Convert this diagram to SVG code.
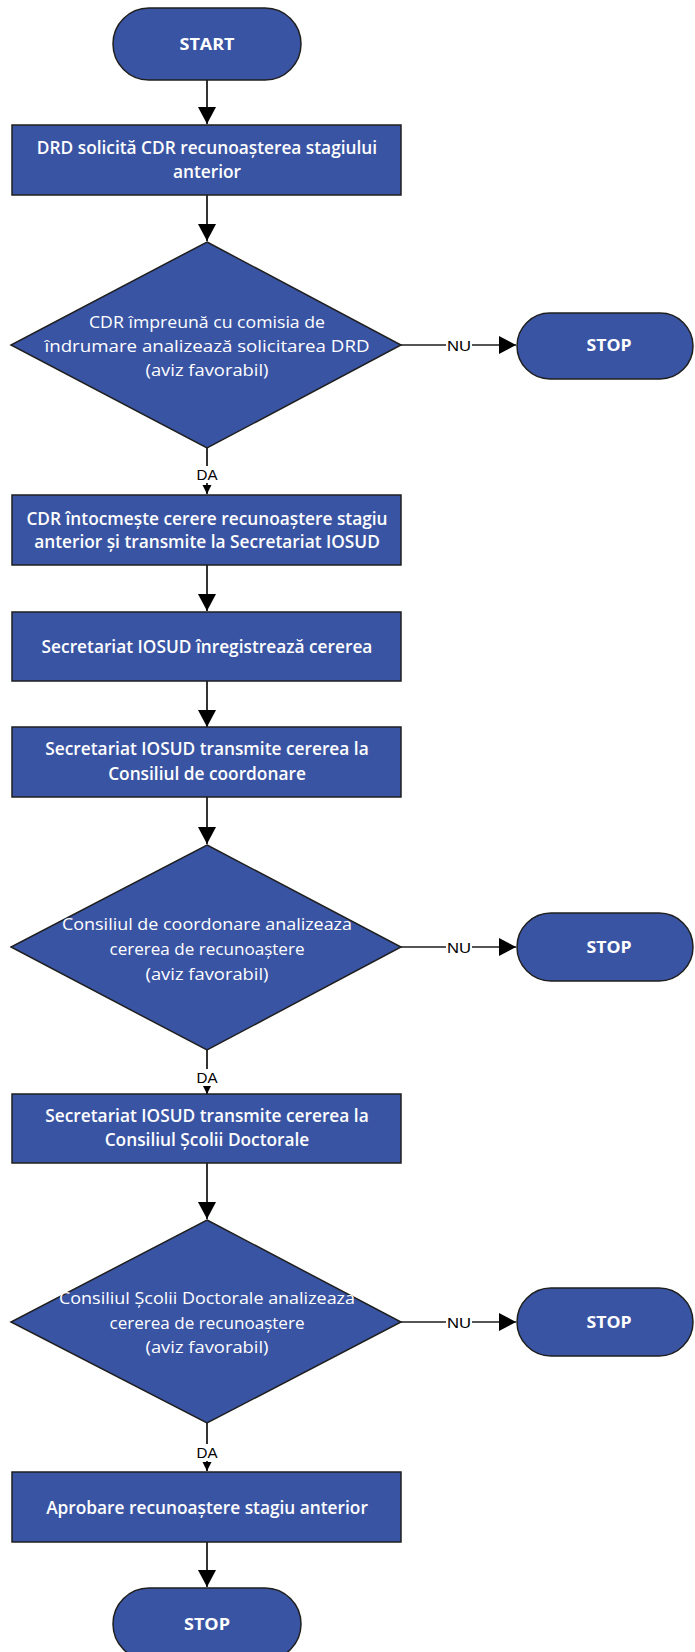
<svg xmlns="http://www.w3.org/2000/svg" width="695" height="1652" viewBox="0 0 695 1652">
<style>
.n{fill:#3A54A4;stroke:#1f1f1f;stroke-width:1.5}
.t{fill:#fff;font-family:"Open Sans","Noto Sans",sans-serif;font-size:17.3px;font-weight:600;text-anchor:middle}
.d{fill:#fff;font-family:"Open Sans","Noto Sans",sans-serif;font-size:17px;font-weight:500;text-anchor:middle}
.s{fill:#fff;font-family:"Open Sans","Noto Sans",sans-serif;font-size:16px;font-weight:700;text-anchor:middle}
.c{stroke:#000;stroke-width:1.6;fill:none}
.h{stroke:#555;stroke-width:2.2;fill:none}
.l{fill:#000;font-family:"Liberation Sans",Arial,sans-serif;font-size:14px;text-anchor:middle}
</style>
<defs>
<marker id="a" markerUnits="userSpaceOnUse" markerWidth="18" markerHeight="18" refX="17" refY="9" orient="auto"><path d="M0,0 L17,9 L0,18 Z" fill="#000"/></marker>
<marker id="b" markerUnits="userSpaceOnUse" markerWidth="10" markerHeight="10" refX="9" refY="4.5" orient="auto"><path d="M0,0 L9,4.5 L0,9 Z" fill="#000"/></marker>
</defs>
<rect width="695" height="1652" fill="#fff"/>
<g id="connectors">
<line class="c" x1="207" y1="80" x2="207" y2="124" marker-end="url(#a)"/>
<line class="c" x1="207" y1="195" x2="207" y2="241" marker-end="url(#a)"/>
<line class="c" x1="207" y1="448" x2="207" y2="494" marker-end="url(#b)"/>
<line class="h" x1="401" y1="345" x2="516" y2="345" marker-end="url(#a)"/>
<line class="c" x1="207" y1="565" x2="207" y2="611" marker-end="url(#a)"/>
<line class="c" x1="207" y1="681" x2="207" y2="727" marker-end="url(#a)"/>
<line class="c" x1="207" y1="797" x2="207" y2="844" marker-end="url(#a)"/>
<line class="c" x1="207" y1="1050" x2="207" y2="1094" marker-end="url(#b)"/>
<line class="h" x1="401" y1="947" x2="516" y2="947" marker-end="url(#a)"/>
<line class="c" x1="207" y1="1163" x2="207" y2="1219" marker-end="url(#a)"/>
<line class="c" x1="207" y1="1423" x2="207" y2="1471" marker-end="url(#b)"/>
<line class="h" x1="401" y1="1322" x2="516" y2="1322" marker-end="url(#a)"/>
<line class="c" x1="207" y1="1542" x2="207" y2="1587" marker-end="url(#a)"/>
<rect x="446" y="337" width="26" height="17" fill="#fff"/>
<text class="l" x="459" y="351" textLength="24" lengthAdjust="spacingAndGlyphs">NU</text>
<rect x="446" y="939" width="26" height="17" fill="#fff"/>
<text class="l" x="459" y="953" textLength="24" lengthAdjust="spacingAndGlyphs">NU</text>
<rect x="446" y="1314" width="26" height="17" fill="#fff"/>
<text class="l" x="459" y="1328" textLength="24" lengthAdjust="spacingAndGlyphs">NU</text>
<rect x="195" y="466" width="24" height="17" fill="#fff"/>
<text class="l" x="207" y="480" textLength="21" lengthAdjust="spacingAndGlyphs">DA</text>
<rect x="195" y="1069" width="24" height="17" fill="#fff"/>
<text class="l" x="207" y="1083" textLength="21" lengthAdjust="spacingAndGlyphs">DA</text>
<rect x="195" y="1444" width="24" height="17" fill="#fff"/>
<text class="l" x="207" y="1458" textLength="21" lengthAdjust="spacingAndGlyphs">DA</text>
</g>
<g id="start"><rect class="n" x="113" y="8" width="188" height="72" rx="36"/><text class="s" x="207" y="50" textLength="55" lengthAdjust="spacingAndGlyphs">START</text></g>
<g id="box1"><rect class="n" x="12" y="125" width="389" height="70"/><text class="t" x="207" y="154">DRD solicită CDR recunoașterea stagiului</text><text class="t" x="207" y="178">anterior</text></g>
<g id="dec1"><polygon class="n" points="207,242 401,345 207,448 11,345"/><text class="d" x="207" y="328" textLength="236" lengthAdjust="spacingAndGlyphs">CDR împreună cu comisia de</text><text class="d" x="207" y="352" textLength="325" lengthAdjust="spacingAndGlyphs">îndrumare analizează solicitarea DRD</text><text class="d" x="207" y="376" textLength="123" lengthAdjust="spacingAndGlyphs">(aviz favorabil)</text></g>
<g id="stop1"><rect class="n" x="517" y="313" width="176" height="66" rx="33"/><text class="s" x="609" y="351" textLength="45" lengthAdjust="spacingAndGlyphs">STOP</text></g>
<g id="box2"><rect class="n" x="12" y="495" width="389" height="70"/><text class="t" x="207" y="525">CDR întocmește cerere recunoaștere stagiu</text><text class="t" x="207" y="548">anterior și transmite la Secretariat IOSUD</text></g>
<g id="box3"><rect class="n" x="12" y="612" width="389" height="69"/><text class="t" x="207" y="653">Secretariat IOSUD înregistrează cererea</text></g>
<g id="box4"><rect class="n" x="12" y="727" width="389" height="70"/><text class="t" x="207" y="755">Secretariat IOSUD transmite cererea la</text><text class="t" x="207" y="780">Consiliul de coordonare</text></g>
<g id="dec2"><polygon class="n" points="207,845 401,947 207,1050 11,947"/><text class="d" x="207" y="930" textLength="290" lengthAdjust="spacingAndGlyphs">Consiliul de coordonare analizeaza</text><text class="d" x="207" y="955" textLength="195" lengthAdjust="spacingAndGlyphs">cererea de recunoaștere</text><text class="d" x="207" y="980" textLength="123" lengthAdjust="spacingAndGlyphs">(aviz favorabil)</text></g>
<g id="stop2"><rect class="n" x="517" y="913" width="176" height="68" rx="34"/><text class="s" x="609" y="953" textLength="45" lengthAdjust="spacingAndGlyphs">STOP</text></g>
<g id="box5"><rect class="n" x="12" y="1094" width="389" height="69"/><text class="t" x="207" y="1122">Secretariat IOSUD transmite cererea la</text><text class="t" x="207" y="1146">Consiliul Școlii Doctorale</text></g>
<g id="dec3"><polygon class="n" points="207,1220 401,1322 207,1423 11,1322"/><text class="d" x="207" y="1304" textLength="296" lengthAdjust="spacingAndGlyphs">Consiliul Școlii Doctorale analizeaza</text><text class="d" x="207" y="1329" textLength="195" lengthAdjust="spacingAndGlyphs">cererea de recunoaștere</text><text class="d" x="207" y="1353" textLength="123" lengthAdjust="spacingAndGlyphs">(aviz favorabil)</text></g>
<g id="stop3"><rect class="n" x="517" y="1288" width="176" height="68" rx="34"/><text class="s" x="609" y="1328" textLength="45" lengthAdjust="spacingAndGlyphs">STOP</text></g>
<g id="box6"><rect class="n" x="12" y="1472" width="389" height="70"/><text class="t" x="207" y="1514">Aprobare recunoaștere stagiu anterior</text></g>
<g id="stop4"><rect class="n" x="113" y="1588" width="188" height="72" rx="36"/><text class="s" x="207" y="1630" textLength="46" lengthAdjust="spacingAndGlyphs">STOP</text></g>
</svg>
